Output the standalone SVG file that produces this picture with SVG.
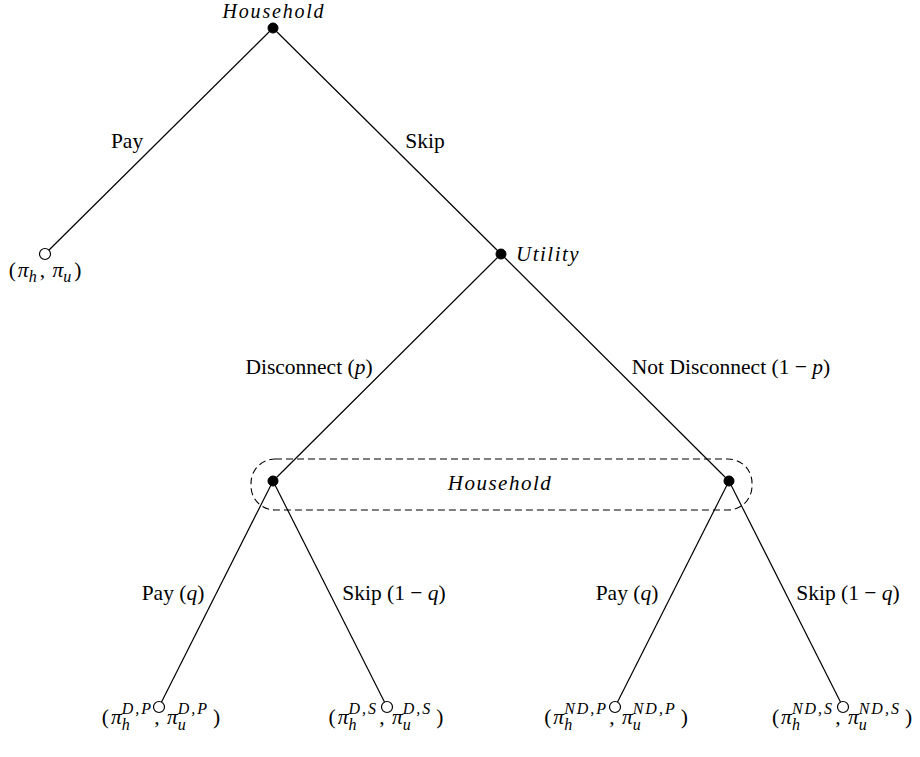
<svg xmlns="http://www.w3.org/2000/svg" width="920" height="757" viewBox="0 0 920 757">
<style>
.t{font-family:"Liberation Serif","Times New Roman",serif;font-size:21.5px;fill:#000}
.m{font-style:italic}
.it{font-style:italic;letter-spacing:1.5px;font-size:21px}
.sc{font-size:16px;font-style:italic;letter-spacing:2px}
.e{stroke:#000;stroke-width:1.2;fill:none}
.dn{fill:#000;stroke:#000;stroke-width:1}
.ln{fill:#fff;stroke:#000;stroke-width:1.2}
.box{fill:none;stroke:#000;stroke-width:1.1;stroke-dasharray:7,4}
</style>
<rect width="920" height="757" fill="#fff"/>
<g id="connectors">
<line class="e" x1="273" y1="28" x2="45" y2="254"/>
<line class="e" x1="273" y1="28" x2="501" y2="254"/>
<line class="e" x1="501" y1="254" x2="273" y2="481"/>
<line class="e" x1="501" y1="254" x2="729" y2="481"/>
<line class="e" x1="273" y1="481" x2="159" y2="707"/>
<line class="e" x1="273" y1="481" x2="387" y2="707"/>
<line class="e" x1="729" y1="481" x2="615" y2="707"/>
<line class="e" x1="729" y1="481" x2="843" y2="707"/>
<text class="t" x="127" y="148" text-anchor="middle">Pay</text>
<text class="t" x="425" y="148" text-anchor="middle">Skip</text>
<text class="t" x="309" y="374" text-anchor="middle">Disconnect (<tspan class="m">p</tspan>)</text>
<text class="t" x="731" y="374" text-anchor="middle">Not Disconnect (1 − <tspan class="m">p</tspan>)</text>
<text class="t" x="173" y="600" text-anchor="middle">Pay (<tspan class="m">q</tspan>)</text>
<text class="t" x="394" y="600" text-anchor="middle">Skip (1 − <tspan class="m">q</tspan>)</text>
<text class="t" x="627" y="600" text-anchor="middle">Pay (<tspan class="m">q</tspan>)</text>
<text class="t" x="848" y="600" text-anchor="middle">Skip (1 − <tspan class="m">q</tspan>)</text>
</g>
<g id="info-set">
<rect class="box" x="251" y="459" width="501" height="51" rx="24" ry="24"/>
<text class="t it" x="500" y="490" text-anchor="middle">Household</text>
</g>
<g id="root">
<circle class="dn" cx="273" cy="28" r="5"/>
<text class="t it" x="274" y="18" text-anchor="middle" style="font-size:20px;letter-spacing:1.8px">Household</text>
</g>
<g id="leaf-pay">
<circle class="ln" cx="45" cy="254" r="5.5"/>
<text class="t" x="45" y="277" text-anchor="middle">(<tspan class="m" dx="2">π</tspan><tspan class="sc" dy="5">h</tspan><tspan dy="-5" dx="1">, </tspan><tspan class="m" dx="2">π</tspan><tspan class="sc" dy="5">u</tspan><tspan dy="-5" dx="1">)</tspan></text>
</g>
<g id="utility">
<circle class="dn" cx="501" cy="254" r="5"/>
<text class="t it" x="516" y="261">Utility</text>
</g>
<g id="hh-left">
<circle class="dn" cx="273" cy="481" r="5"/>
</g>
<g id="hh-right">
<circle class="dn" cx="729" cy="481" r="5"/>
</g>
<g id="leaf-dp">
<circle class="ln" cx="159" cy="707" r="5.5"/>
<text class="t" x="161" y="724" text-anchor="middle">(<tspan class="m" dx="2">π</tspan><tspan class="sc" dy="6">h</tspan><tspan class="sc" dx="-10" dy="-16">D,P</tspan><tspan dy="10" dx="1">, </tspan><tspan class="m" dx="2">π</tspan><tspan class="sc" dy="6">u</tspan><tspan class="sc" dx="-10" dy="-16">D,P</tspan><tspan dy="10" dx="4">)</tspan></text>
</g>
<g id="leaf-ds">
<circle class="ln" cx="387" cy="707" r="5.5"/>
<text class="t" x="386" y="724" text-anchor="middle">(<tspan class="m" dx="2">π</tspan><tspan class="sc" dy="6">h</tspan><tspan class="sc" dx="-10" dy="-16">D,S</tspan><tspan dy="10" dx="1">, </tspan><tspan class="m" dx="2">π</tspan><tspan class="sc" dy="6">u</tspan><tspan class="sc" dx="-10" dy="-16">D,S</tspan><tspan dy="10" dx="4">)</tspan></text>
</g>
<g id="leaf-ndp">
<circle class="ln" cx="615" cy="707" r="5.5"/>
<text class="t" x="616" y="724" text-anchor="middle">(<tspan class="m" dx="2">π</tspan><tspan class="sc" dy="6">h</tspan><tspan class="sc" dx="-10" dy="-16">ND,P</tspan><tspan dy="10" dx="1">, </tspan><tspan class="m" dx="2">π</tspan><tspan class="sc" dy="6">u</tspan><tspan class="sc" dx="-10" dy="-16">ND,P</tspan><tspan dy="10" dx="4">)</tspan></text>
</g>
<g id="leaf-nds">
<circle class="ln" cx="843" cy="707" r="5.5"/>
<text class="t" x="842" y="724" text-anchor="middle">(<tspan class="m" dx="2">π</tspan><tspan class="sc" dy="6">h</tspan><tspan class="sc" dx="-10" dy="-16">ND,S</tspan><tspan dy="10" dx="1">, </tspan><tspan class="m" dx="2">π</tspan><tspan class="sc" dy="6">u</tspan><tspan class="sc" dx="-10" dy="-16">ND,S</tspan><tspan dy="10" dx="4">)</tspan></text>
</g>
</svg>
